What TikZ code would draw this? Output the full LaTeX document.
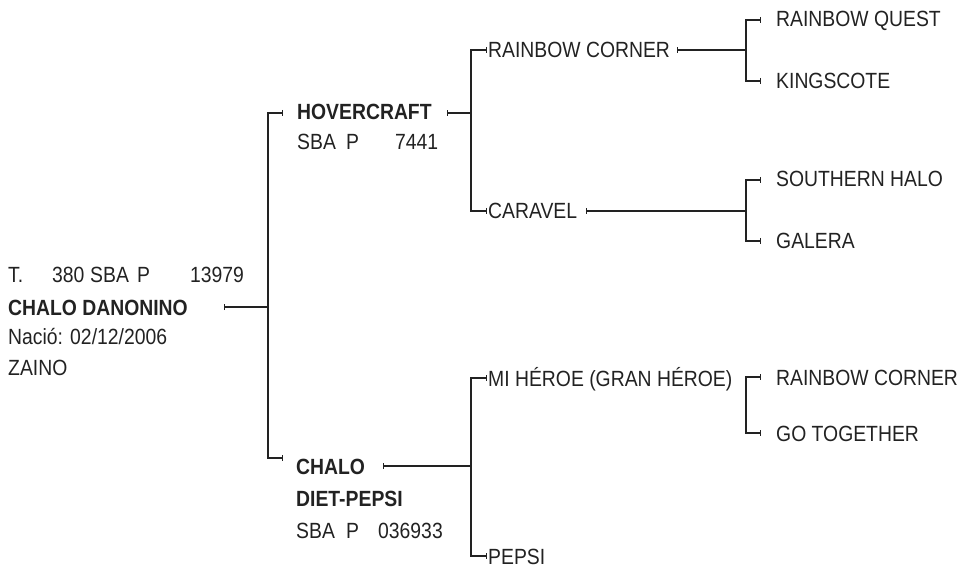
\documentclass[tikz,border=0pt]{standalone}
\usepackage{fontspec}
\setmainfont{Liberation Sans}[FakeStretch=0.88]
\usetikzlibrary{arrows.meta}
\definecolor{ink}{HTML}{222222}
\tikzset{
  lbl/.style={anchor=base west, inner sep=0pt, text=ink, font=\fontsize{22}{26}\selectfont},
  bl/.style={lbl, font=\fontsize{22}{26}\selectfont\bfseries},
  wire/.style={draw=ink, line width=1.2pt},
  tickboth/.style={wire, {Bar[width=6pt,line width=1.2pt]}-{Bar[width=6pt,line width=1.2pt]}},
  tickstart/.style={wire, {Bar[width=6pt,line width=1.2pt]}-},
}
\begin{document}
\begin{tikzpicture}[x=1pt,y=-1pt]
\useasboundingbox (0,0) rectangle (964,572);
% root
\node[lbl] (r1) at (8,283) {\makebox[44pt][l]{T.}\makebox[38pt][l]{380}\makebox[47pt][l]{SBA}\makebox[53pt][l]{P}13979};
\node[bl]  (r2) at (8,315) {CHALO DANONINO};
\node[lbl] (r3) at (8,344) {Nació: 02/12/2006};
\node[lbl] (r4) at (8,375) {ZAINO};
% generation 1
\node[bl]  (h1) at (297,120) {HOVERCRAFT};
\node[lbl] (h2) at (297,150) {\makebox[49pt][l]{SBA}\makebox[49pt][l]{P}7441};
\node[bl]  (c1) at (296,474) {CHALO};
\node[bl]  (c2) at (296,506) {DIET-PEPSI};
\node[lbl] (c3) at (296,538) {\makebox[50pt][l]{SBA}\makebox[32pt][l]{P}036933};
% generation 2
\node[lbl] (rc) at (488,58) {RAINBOW CORNER};
\node[lbl] (ca) at (488,219) {CARAVEL};
\node[lbl] (mh) at (488,386) {MI HÉROE (GRAN HÉROE)};
\node[lbl] (pe) at (488,564) {PEPSI};
% generation 3
\node[lbl] (rq) at (776,27) {RAINBOW QUEST};
\node[lbl] (ki) at (776,89) {KINGSCOTE};
\node[lbl] (sh) at (776,187) {SOUTHERN HALO};
\node[lbl] (ga) at (776,249) {GALERA};
\node[lbl] (rc2) at (776,385) {RAINBOW CORNER};
\node[lbl] (gt) at (776,441) {GO TOGETHER};
% junction coordinates
\coordinate (t0) at (224,307);
\coordinate (j0) at (268,307);
\coordinate (b0a) at (283,113);
\coordinate (b0b) at (283,458);
\coordinate (th) at (447,113);
\coordinate (jh) at (471,113);
\coordinate (b1a) at (487,50);
\coordinate (b1b) at (487,211);
\coordinate (tc) at (383,466);
\coordinate (jc) at (471,466);
\coordinate (b2a) at (487,378);
\coordinate (b2b) at (487,556);
\coordinate (trc) at (677,50);
\coordinate (jrc) at (746,50);
\coordinate (b3a) at (761,20);
\coordinate (b3b) at (761,81);
\coordinate (tca) at (586,211);
\coordinate (jca) at (746,211);
\coordinate (b4a) at (761,180);
\coordinate (b4b) at (761,241);
\coordinate (b5a) at (761,377);
\coordinate (b5b) at (761,433);
% connectors
\draw[tickstart] (t0) -- (j0);
\draw[tickboth] (b0a) -- (268,113) -- (268,458) -- (b0b);
\draw[tickstart] (th) -- (jh);
\draw[tickboth] (b1a) -- (471,50) -- (471,211) -- (b1b);
\draw[tickstart] (tc) -- (jc);
\draw[tickboth] (b2a) -- (471,378) -- (471,556) -- (b2b);
\draw[tickstart] (trc) -- (jrc);
\draw[tickboth] (b3a) -- (746,20) -- (746,81) -- (b3b);
\draw[tickstart] (tca) -- (jca);
\draw[tickboth] (b4a) -- (746,180) -- (746,241) -- (b4b);
\draw[tickboth] (b5a) -- (746,377) -- (746,433) -- (b5b);
\end{tikzpicture}
\end{document}
